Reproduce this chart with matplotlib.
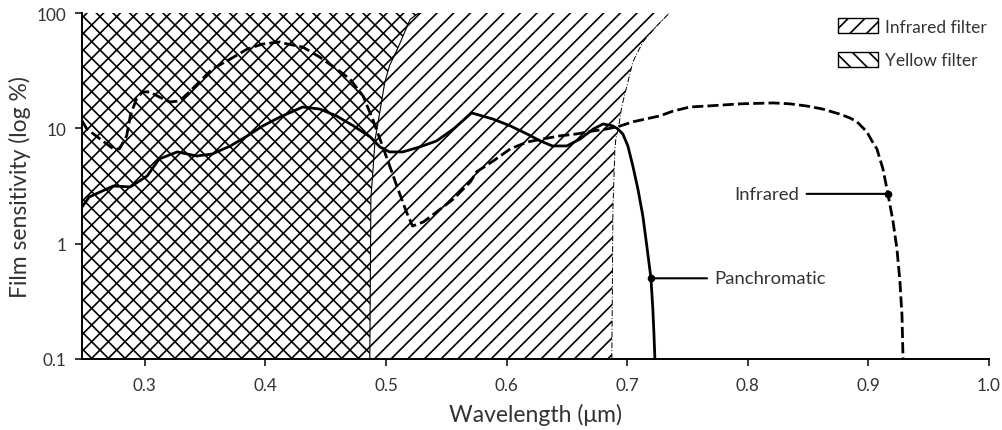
import numpy as np
import matplotlib
matplotlib.use('Agg')
import matplotlib.pyplot as plt
from matplotlib.patches import Patch

plt.rcParams['font.family'] = ['Lato', 'DejaVu Sans']
plt.rcParams['hatch.linewidth'] = 1.2

# Panchromatic film sensitivity (solid)
pan_x = [0.248, 0.254, 0.274, 0.288, 0.302, 0.312, 0.327, 0.343, 0.356, 0.371,
         0.385, 0.398, 0.412, 0.431, 0.445, 0.459, 0.473, 0.487, 0.495, 0.503,
         0.514, 0.528, 0.542, 0.556, 0.571, 0.589, 0.603, 0.617, 0.628, 0.638,
         0.650, 0.661, 0.672, 0.680, 0.688, 0.6923, 0.6964, 0.7006, 0.7047, 0.7089,
         0.7130, 0.7163, 0.7197, 0.7213, 0.7222, 0.7230, 0.7232]
pan_y = [2.08, 2.54, 3.16, 3.10, 3.86, 5.42, 6.24, 5.75, 5.99, 7.03,
         8.59, 10.5, 12.5, 15.3, 14.7, 12.8, 10.5, 8.41, 6.89, 6.24,
         6.24, 6.89, 7.77, 9.87, 13.6, 12.0, 10.5, 8.93, 7.77, 7.03,
         7.03, 8.08, 9.87, 10.9, 10.5, 9.87, 8.93, 7.03, 4.71, 2.98,
         1.74, 0.955, 0.503, 0.271, 0.166, 0.10, 0.09]

# Infrared film sensitivity (dashed)
ir_x = [0.248, 0.252, 0.263, 0.274, 0.279, 0.285, 0.288, 0.293, 0.298, 0.304,
        0.312, 0.321, 0.329, 0.337, 0.346, 0.356, 0.371, 0.385, 0.398, 0.412,
        0.418, 0.431, 0.445, 0.459, 0.470, 0.481, 0.489, 0.495, 0.501, 0.509,
        0.517, 0.522, 0.531, 0.542, 0.556, 0.570, 0.575, 0.589, 0.603, 0.617,
        0.630, 0.644, 0.658, 0.672, 0.683, 0.692, 0.705, 0.727, 0.738, 0.752,
        0.766, 0.794, 0.821, 0.835, 0.849, 0.862, 0.876, 0.8847, 0.8905, 0.8947,
        0.8988, 0.9030, 0.9071, 0.9096, 0.9121, 0.9162, 0.9204, 0.9237, 0.9262, 0.9279,
        0.9287, 0.929]
ir_y = [11.6, 9.87, 8.08, 6.62, 6.62, 8.59, 12.8, 17.9, 20.7, 20.7,
        18.7, 16.9, 17.3, 20.7, 25.7, 32.7, 39.9, 48.7, 53.9, 56.1,
        53.9, 50.7, 41.5, 32.7, 26.8, 19.1, 12.0, 8.08, 5.42, 3.16,
        1.88, 1.42, 1.54, 1.88, 2.44, 3.43, 4.18, 5.21, 6.62, 7.60,
        8.08, 8.59, 8.93, 9.49, 9.87, 10.3, 11.4, 12.8, 14.1, 15.3,
        15.6, 16.3, 16.6, 16.3, 15.6, 14.7, 13.3, 12.3, 11.4, 10.3,
        9.30, 7.77, 6.62, 5.42, 4.44, 2.70, 1.57, 0.90, 0.466, 0.236,
        0.106, 0.09]

# Filter cut-off edges (wavelength vs. sensitivity level)
yellow_edge_y = [0.1, 2.5, 4.0, 8.0, 14.0, 25.0, 35.0, 50.0, 88.0, 100.0]
yellow_edge_x = [0.4866, 0.4875, 0.489, 0.491, 0.495, 0.499, 0.503, 0.510, 0.520, 0.527]
infrared_edge_y = [0.1, 2.0, 6.6, 8.1, 10.5, 15.6, 23.3, 37.6, 56.1, 77.2, 100.0]
infrared_edge_x = [0.6873, 0.6882, 0.6898, 0.6906, 0.6931, 0.6956, 0.6998, 0.7047,
                   0.7130, 0.7246, 0.735]

x_ticks = [0.3, 0.4, 0.5, 0.6, 0.7, 0.8, 0.9, 1.0]
x_labels = ['0.3', '0.4', '0.5', '0.6', '0.7', '0.8', '0.9', '1.0']
y_ticks = [0.1, 1, 10, 100]
y_labels = ['0.1', '1', '10', '100']

pan_mark_y = 0.5
ir_mark_y = 2.7

text_color = '#333333'
x_min = 0.248

fig = plt.figure(figsize=(10.03, 4.31), dpi=100)
ax = fig.add_axes([0.0818, 0.165, 0.9042, 0.8025])
ax.set_yscale('log')
ax.set_xlim(x_min, 1.0)
ax.set_ylim(0.1, 100)

# filter regions
ax.fill_betweenx(infrared_edge_y, x_min, infrared_edge_x, facecolor='none',
                 edgecolor='black', hatch='//', linewidth=0, zorder=1)
ax.fill_betweenx(yellow_edge_y, x_min, yellow_edge_x, facecolor='none',
                 edgecolor='black', hatch='\\\\', linewidth=0, zorder=1)
ax.plot(yellow_edge_x, yellow_edge_y, color='black', lw=0.8, zorder=2)
ax.plot(infrared_edge_x, infrared_edge_y, color='black', lw=0.7,
        linestyle=(0, (6, 2, 1, 2)), zorder=2)

# sensitivity curves
ax.plot(pan_x, pan_y, color='black', lw=2.0, solid_joinstyle='round', zorder=3)
ax.plot(ir_x, ir_y, color='black', lw=2.0, dashes=[4, 1.5], dash_joinstyle='round', zorder=3)

# annotation points on the falling edges
pan_fall = next(i for i, x in enumerate(pan_x) if x >= 0.69)
pan_mark_x = np.interp(np.log10(pan_mark_y), np.log10(pan_y[pan_fall:])[::-1],
                       np.array(pan_x[pan_fall:])[::-1])
ir_fall = next(i for i, x in enumerate(ir_x) if x >= 0.9)
ir_mark_x = np.interp(np.log10(ir_mark_y), np.log10(ir_y[ir_fall:])[::-1],
                      np.array(ir_x[ir_fall:])[::-1])

ax.plot([pan_mark_x], [pan_mark_y], 'o', color='black', ms=4.5, zorder=4)
ax.plot([ir_mark_x], [ir_mark_y], 'o', color='black', ms=4.5, zorder=4)
ax.annotate('Panchromatic', xy=(pan_mark_x, pan_mark_y), xytext=(0.772, pan_mark_y),
            ha='left', va='center', fontsize=13.3, color=text_color,
            arrowprops=dict(arrowstyle='-', lw=1.5, color='black', shrinkA=3, shrinkB=0))
ax.annotate('Infrared', xy=(ir_mark_x, ir_mark_y), xytext=(0.843, ir_mark_y),
            ha='right', va='center', fontsize=13.3, color=text_color,
            arrowprops=dict(arrowstyle='-', lw=1.5, color='black', shrinkA=3, shrinkB=0))

# axes styling
for side in ['top', 'right']:
    ax.spines[side].set_visible(False)
for side in ['left', 'bottom']:
    ax.spines[side].set_linewidth(1.4)
ax.set_xticks(x_ticks)
ax.set_xticklabels(x_labels)
ax.set_yticks(y_ticks)
ax.set_yticklabels(y_labels)
ax.yaxis.set_minor_locator(matplotlib.ticker.NullLocator())
ax.tick_params(axis='both', direction='out', length=5, width=1.1,
               labelsize=12.3, labelcolor=text_color)
ax.tick_params(axis='x', pad=8)
ax.tick_params(axis='y', pad=6)
ax.set_xlabel('Wavelength (μm)', fontsize=16.5, color=text_color, labelpad=7)
ax.set_ylabel('Film sensitivity (log %)', fontsize=16.5, color=text_color, labelpad=4)

handles = [Patch(facecolor='white', edgecolor='black', hatch='//', lw=1.0, label='Infrared filter'),
           Patch(facecolor='white', edgecolor='black', hatch='\\\\', lw=1.0, label='Yellow filter')]
ax.legend(handles=handles, loc='upper left', bbox_to_anchor=(0.8335, 0.985), frameon=False,
          fontsize=12.5, handlelength=2.3, handleheight=0.95, handletextpad=0.4,
          labelspacing=1.0, borderpad=0, borderaxespad=0, labelcolor=text_color)

fig.savefig('out.png', dpi=100)
